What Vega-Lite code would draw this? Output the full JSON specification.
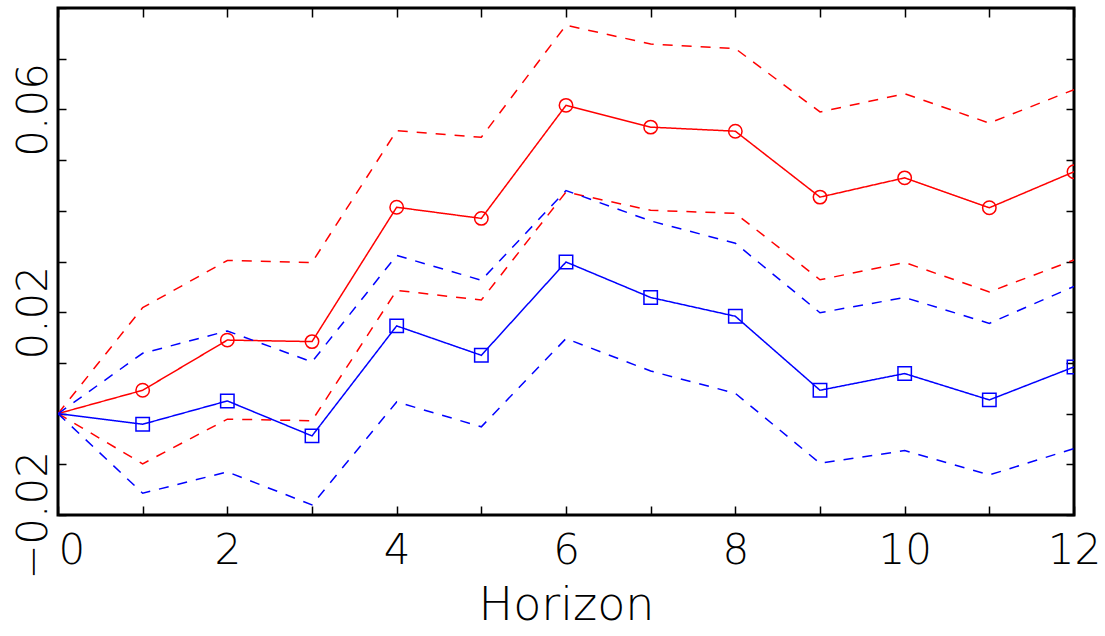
{
  "$schema": "https://vega.github.io/schema/vega-lite/v6.json",
  "width": 1016,
  "height": 507,
  "autosize": {"type": "none"},
  "padding": {"left": 58, "top": 8, "right": 31, "bottom": 121},
  "background": "white",
  "config": {
    "view": {"stroke": "black", "strokeWidth": 3},
    "axis": {"grid": false, "domain": false, "tickColor": "black", "tickWidth": 1.5, "labelColor": "black", "labelFont": "DejaVu Sans", "labelFontWeight": 200, "titleFont": "DejaVu Sans", "titleFontWeight": 200, "titleColor": "black", "labelOverlap": false, "labelFlush": false, "labelBound": false}
  },
  "data": {
    "values": [
      {"h": 0, "g": "r", "s": "est", "v": 0},
      {"h": 1, "g": "r", "s": "est", "v": 0.0046},
      {"h": 2, "g": "r", "s": "est", "v": 0.0145},
      {"h": 3, "g": "r", "s": "est", "v": 0.0142},
      {"h": 4, "g": "r", "s": "est", "v": 0.0407},
      {"h": 5, "g": "r", "s": "est", "v": 0.0385},
      {"h": 6, "g": "r", "s": "est", "v": 0.0608},
      {"h": 7, "g": "r", "s": "est", "v": 0.0565},
      {"h": 8, "g": "r", "s": "est", "v": 0.0557},
      {"h": 9, "g": "r", "s": "est", "v": 0.0427},
      {"h": 10, "g": "r", "s": "est", "v": 0.0465},
      {"h": 11, "g": "r", "s": "est", "v": 0.0406},
      {"h": 12, "g": "r", "s": "est", "v": 0.0477},
      {"h": 0, "g": "r", "s": "hi", "v": 0},
      {"h": 1, "g": "r", "s": "hi", "v": 0.0209},
      {"h": 2, "g": "r", "s": "hi", "v": 0.0302},
      {"h": 3, "g": "r", "s": "hi", "v": 0.0298},
      {"h": 4, "g": "r", "s": "hi", "v": 0.0558},
      {"h": 5, "g": "r", "s": "hi", "v": 0.0545},
      {"h": 6, "g": "r", "s": "hi", "v": 0.0766},
      {"h": 7, "g": "r", "s": "hi", "v": 0.0729},
      {"h": 8, "g": "r", "s": "hi", "v": 0.0720},
      {"h": 9, "g": "r", "s": "hi", "v": 0.0595},
      {"h": 10, "g": "r", "s": "hi", "v": 0.0631},
      {"h": 11, "g": "r", "s": "hi", "v": 0.0573},
      {"h": 12, "g": "r", "s": "hi", "v": 0.0639},
      {"h": 0, "g": "r", "s": "lo", "v": 0},
      {"h": 1, "g": "r", "s": "lo", "v": -0.0099},
      {"h": 2, "g": "r", "s": "lo", "v": -0.0011},
      {"h": 3, "g": "r", "s": "lo", "v": -0.0014},
      {"h": 4, "g": "r", "s": "lo", "v": 0.0243},
      {"h": 5, "g": "r", "s": "lo", "v": 0.0224},
      {"h": 6, "g": "r", "s": "lo", "v": 0.0437},
      {"h": 7, "g": "r", "s": "lo", "v": 0.0401},
      {"h": 8, "g": "r", "s": "lo", "v": 0.0395},
      {"h": 9, "g": "r", "s": "lo", "v": 0.0264},
      {"h": 10, "g": "r", "s": "lo", "v": 0.0298},
      {"h": 11, "g": "r", "s": "lo", "v": 0.0240},
      {"h": 12, "g": "r", "s": "lo", "v": 0.0303},
      {"h": 0, "g": "b", "s": "est", "v": 0},
      {"h": 1, "g": "b", "s": "est", "v": -0.0021},
      {"h": 2, "g": "b", "s": "est", "v": 0.0025},
      {"h": 3, "g": "b", "s": "est", "v": -0.0044},
      {"h": 4, "g": "b", "s": "est", "v": 0.0173},
      {"h": 5, "g": "b", "s": "est", "v": 0.0115},
      {"h": 6, "g": "b", "s": "est", "v": 0.0299},
      {"h": 7, "g": "b", "s": "est", "v": 0.0229},
      {"h": 8, "g": "b", "s": "est", "v": 0.0192},
      {"h": 9, "g": "b", "s": "est", "v": 0.0046},
      {"h": 10, "g": "b", "s": "est", "v": 0.0079},
      {"h": 11, "g": "b", "s": "est", "v": 0.0027},
      {"h": 12, "g": "b", "s": "est", "v": 0.0092},
      {"h": 0, "g": "b", "s": "hi", "v": 0},
      {"h": 1, "g": "b", "s": "hi", "v": 0.0119},
      {"h": 2, "g": "b", "s": "hi", "v": 0.0163},
      {"h": 3, "g": "b", "s": "hi", "v": 0.0102},
      {"h": 4, "g": "b", "s": "hi", "v": 0.0312},
      {"h": 5, "g": "b", "s": "hi", "v": 0.0263},
      {"h": 6, "g": "b", "s": "hi", "v": 0.0440},
      {"h": 7, "g": "b", "s": "hi", "v": 0.0380},
      {"h": 8, "g": "b", "s": "hi", "v": 0.0336},
      {"h": 9, "g": "b", "s": "hi", "v": 0.0199},
      {"h": 10, "g": "b", "s": "hi", "v": 0.0229},
      {"h": 11, "g": "b", "s": "hi", "v": 0.0178},
      {"h": 12, "g": "b", "s": "hi", "v": 0.0251},
      {"h": 0, "g": "b", "s": "lo", "v": 0},
      {"h": 1, "g": "b", "s": "lo", "v": -0.0157},
      {"h": 2, "g": "b", "s": "lo", "v": -0.0115},
      {"h": 3, "g": "b", "s": "lo", "v": -0.0180},
      {"h": 4, "g": "b", "s": "lo", "v": 0.0023},
      {"h": 5, "g": "b", "s": "lo", "v": -0.0026},
      {"h": 6, "g": "b", "s": "lo", "v": 0.0148},
      {"h": 7, "g": "b", "s": "lo", "v": 0.0084},
      {"h": 8, "g": "b", "s": "lo", "v": 0.0040},
      {"h": 9, "g": "b", "s": "lo", "v": -0.0098},
      {"h": 10, "g": "b", "s": "lo", "v": -0.0073},
      {"h": 11, "g": "b", "s": "lo", "v": -0.0121},
      {"h": 12, "g": "b", "s": "lo", "v": -0.0069}
    ]
  },
  "layer": [
    {
      "mark": {"type": "line", "strokeWidth": 1.5, "clip": true},
      "encoding": {
        "x": {
          "field": "h", "type": "quantitative",
          "scale": {"domain": [0, 12], "nice": false, "zero": false},
          "axis": {
            "orient": "bottom",
            "values": [0, 1, 2, 3, 4, 5, 6, 7, 8, 9, 10, 11, 12],
            "labelExpr": "datum.value % 2 == 0 ? datum.label : ''",
            "tickSize": -9,
            "labelFontSize": 42,
            "labelPadding": 24,
            "labelAlign": {"condition": {"test": "datum.value == 0", "value": "left"}, "value": "center"},
            "title": "Horizon",
            "titleFontSize": 46,
            "titlePadding": 12
          }
        },
        "y": {
          "field": "v", "type": "quantitative",
          "scale": {"domain": [-0.02, 0.08], "nice": false, "zero": false},
          "axis": {
            "orient": "left",
            "values": [-0.02, -0.01, 0, 0.01, 0.02, 0.03, 0.04, 0.05, 0.06, 0.07, 0.08],
            "format": ".2f",
            "labelExpr": "abs((datum.value*100+2)/4 - round((datum.value*100+2)/4)) < 0.01 ? datum.label : ''",
            "tickSize": -8,
            "labelAngle": -90,
            "labelAlign": "center",
            "labelBaseline": "alphabetic",
            "labelFontSize": 42,
            "labelPadding": 20,
            "title": null
          }
        },
        "color": {"field": "g", "type": "nominal", "scale": {"domain": ["r", "b"], "range": ["#ff0000", "#0000ff"]}, "legend": null},
        "strokeDash": {"field": "s", "type": "nominal", "scale": {"domain": ["est", "lo", "hi"], "range": [[1, 0], [10, 9], [10, 9]]}, "legend": null}
      }
    },
    {
      "transform": [{"filter": "datum.s == 'est' && datum.h > 0"}],
      "mark": {"type": "point", "filled": false, "strokeWidth": 1.5, "size": 180, "clip": true, "opacity": 1},
      "encoding": {
        "x": {
          "field": "h", "type": "quantitative",
          "axis": {"orient": "top", "values": [0, 1, 2, 3, 4, 5, 6, 7, 8, 9, 10, 11, 12], "labels": false, "tickSize": -9, "title": null}
        },
        "y": {
          "field": "v", "type": "quantitative",
          "axis": {"orient": "right", "values": [-0.02, -0.01, 0, 0.01, 0.02, 0.03, 0.04, 0.05, 0.06, 0.07, 0.08], "labels": false, "tickSize": -8, "title": null}
        },
        "color": {"field": "g", "type": "nominal", "legend": null},
        "shape": {"field": "g", "type": "nominal", "scale": {"domain": ["r", "b"], "range": ["circle", "square"]}, "legend": null}
      }
    }
  ],
  "resolve": {"axis": {"x": "independent", "y": "independent"}}
}
